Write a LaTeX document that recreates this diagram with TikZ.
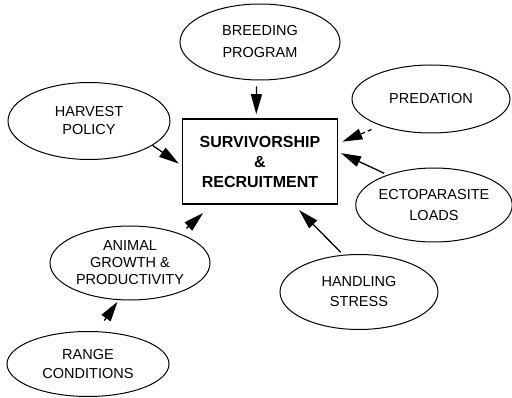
\documentclass[tikz,border=0pt]{standalone}
\usepackage{fontspec}
\setmainfont{Liberation Sans}
\usetikzlibrary{shapes.geometric}
\usetikzlibrary{arrows.meta}

\tikzset{
  factor/.style={ellipse, draw, line width=1pt, inner sep=0pt, align=center,
    font=\fontsize{14.5}{20}\selectfont},
  outcome/.style={rectangle, draw, line width=1.6pt, minimum width=155pt,
    minimum height=85pt, align=center, font=\fontsize{16}{20}\selectfont\bfseries},
  effect/.style={-{Triangle[length=20pt,width=11pt]}, line width=1.3pt},
}

\begin{document}
\begin{tikzpicture}[x=1pt,y=1pt]
    \useasboundingbox (0,0) rectangle (512,397);
    % centre box
    \node[outcome] (surv) at (260,235.5) {SURVIVORSHIP\\\&\\RECRUITMENT};
    % influences
    \node[factor, minimum width=160pt, minimum height=76pt,
      font=\fontsize{14.5}{22}\selectfont] (breed) at (260,355) {BREEDING\\PROGRAM};
    \node[factor, minimum width=162pt, minimum height=77pt,
      font=\fontsize{14.5}{18}\selectfont] (harvest) at (89,276) {HARVEST\\POLICY};
    \node[factor, minimum width=158pt, minimum height=68pt] (pred) at (431,298) {PREDATION};
    \node[factor, minimum width=154pt, minimum height=74pt,
      font=\fontsize{14.5}{21}\selectfont] (ecto) at (434,192) {ECTOPARASITE\\LOADS};
    \node[factor, minimum width=160pt, minimum height=74pt,
      font=\fontsize{14.5}{17}\selectfont] (animal) at (130,134) {ANIMAL\\GROWTH \&\\PRODUCTIVITY};
    \node[factor, minimum width=158pt, minimum height=75pt] (handling) at (359,105) {HANDLING\\STRESS};
    \node[factor, minimum width=162pt, minimum height=65pt,
      font=\fontsize{14.5}{19}\selectfont] (range) at (88,33) {RANGE\\CONDITIONS};

    % arrows
    \draw[effect, shorten <=6pt, shorten >=4pt] (breed.265) -- (surv.95);
    \draw[effect, shorten >=3.5pt] (harvest.-21) -- (surv.183);
    \draw[effect, dash pattern=on 4pt off 3pt, shorten <=10pt, shorten >=4.5pt] (pred.208) -- (surv.13.4);
    \draw[effect, shorten <=3.5pt, shorten >=3pt] (ecto.147) -- (surv.7.5);
    \draw[effect, shorten <=3.5pt, shorten >=7.5pt] (handling.113) -- (surv.-52);
    \draw[effect, shorten <=8pt, shorten >=12pt] (animal.30) -- (surv.222);
    \draw[effect, shorten <=13pt, shorten >=2pt] (range.75) -- (animal.253);
\end{tikzpicture}
\end{document}
